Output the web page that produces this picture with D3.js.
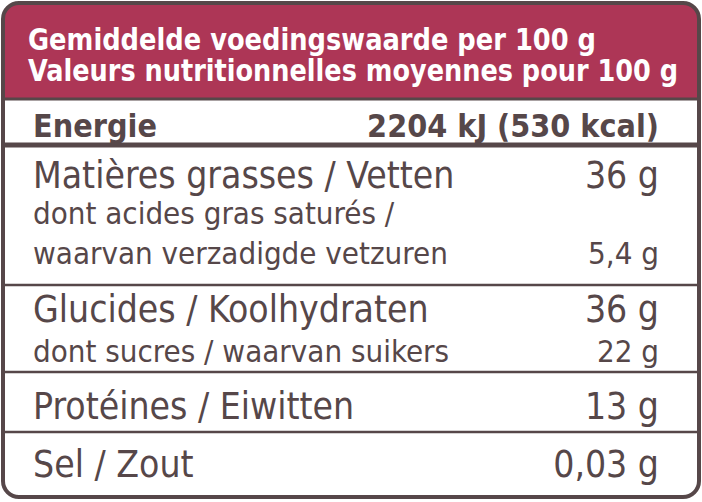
<!DOCTYPE html>
<html><head><meta charset="utf-8">
<script src="https://cdn.jsdelivr.net/npm/d3@7"></script>
<style>body{margin:0;background:#fff}</style>
</head><body>
<svg id="chart" width="702" height="502"></svg>
<script>
// header text
const headerLines = ["Gemiddelde voedingswaarde per 100 g", "Valeurs nutritionnelles moyennes pour 100 g"];
// table rows
const labels = ["Energie", "Matières grasses / Vetten", "dont acides gras saturés /", "waarvan verzadigde vetzuren",
  "Glucides / Koolhydraten", "dont sucres / waarvan suikers", "Protéines / Eiwitten", "Sel / Zout"];
const values = ["2204 kJ (530 kcal)", "36 g", "", "5,4 g", "36 g", "22 g", "13 g", "0,03 g"];
const levels = ["energy", "main", "sub", "sub", "main", "sub", "main", "main"];
// baselines
const baselines = [137, 188, 224, 264, 322, 362, 419, 477];
const dividers = [145, 285, 372, 432];

const border = "#564749", crimson = "#ad3656";
const font = "'DejaVu Sans Condensed', 'Liberation Sans Narrow', Roboto, sans-serif";
const svg = d3.select("#chart");
const x0 = 3, x1 = 699, y0 = 3, y1 = 497, r = 16, headH = 96;

const clip = svg.append("defs").append("clipPath").attr("id", "box");
clip.append("rect").attr("x", x0).attr("y", y0).attr("width", x1 - x0).attr("height", y1 - y0).attr("rx", r);

svg.append("rect").attr("x", x0).attr("y", y0).attr("width", x1 - x0).attr("height", headH)
  .attr("fill", crimson).attr("clip-path", "url(#box)");

svg.selectAll(".hd").data(headerLines).join("text")
  .attr("x", 28).attr("y", (d, i) => 50 + i * 31)
  .attr("fill", "#fff").attr("font-family", font).attr("font-weight", "bold")
  .attr("font-size", 30).attr("textLength", (d, i) => i ? 650 : 568).attr("lengthAdjust", "spacingAndGlyphs")
  .text(d => d);

svg.append("line").attr("x1", x0).attr("x2", x1).attr("y1", y0 + headH).attr("y2", y0 + headH)
  .attr("stroke", border).attr("stroke-width", 3);

svg.selectAll(".dv").data(dividers).join("line")
  .attr("x1", x0).attr("x2", x1).attr("y1", d => d).attr("y2", d => d)
  .attr("stroke", border).attr("stroke-width", (d, i) => i === 0 ? 5 : 2.5);

const sizes = { energy: 32, main: 37, sub: 31 };
const rows = labels.map((l, i) => ({ label: l, value: values[i], level: levels[i], y: baselines[i] }));

svg.selectAll(".lb").data(rows).join("text")
  .attr("x", 33).attr("y", d => d.y)
  .attr("fill", border).attr("font-family", font)
  .attr("font-weight", d => d.level === "energy" ? "bold" : "normal")
  .attr("font-size", d => sizes[d.level])
  .text(d => d.label);

svg.selectAll(".vl").data(rows).join("text")
  .attr("x", 659).attr("y", d => d.y).attr("text-anchor", "end")
  .attr("fill", border).attr("font-family", font)
  .attr("font-weight", d => d.level === "energy" ? "bold" : "normal")
  .attr("font-size", d => sizes[d.level])
  .text(d => d.value);

svg.append("rect").attr("x", x0).attr("y", y0).attr("width", x1 - x0).attr("height", y1 - y0).attr("rx", r)
  .attr("fill", "none").attr("stroke", border).attr("stroke-width", 4);
</script>
</body></html>
